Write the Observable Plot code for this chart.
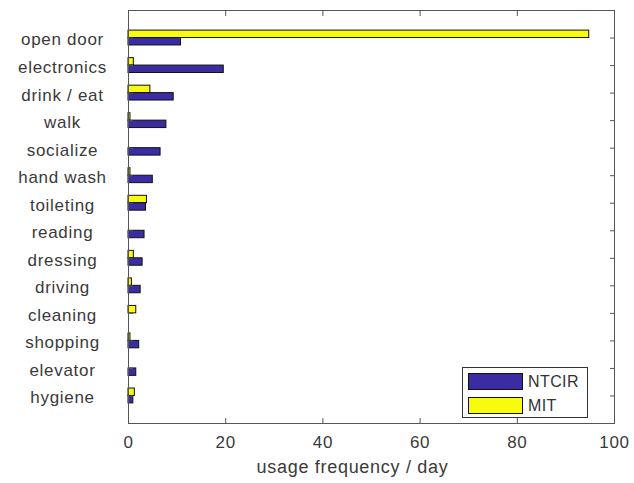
<!DOCTYPE html>
<html>
<head>
<meta charset="utf-8">
<script src="https://cdn.jsdelivr.net/npm/d3@7"></script>
<script src="https://cdn.jsdelivr.net/npm/@observablehq/plot@0.6"></script>
<style>
  html, body { margin: 0; padding: 0; background: #fff; }
  #wrap { position: relative; width: 634px; height: 483px; }
  #wrap svg text { letter-spacing: 0.7px; }
  #legend { position: absolute; left: 462px; top: 367px; width: 124px; height: 49px;
            border: 1px solid #333; background: #fff; font-family: "Liberation Sans", Arial, sans-serif;
            font-size: 16px; color: #333; letter-spacing: 0.4px; }
  .item { position: absolute; left: 5px; height: 17px; display: flex; align-items: center; }
  .sw { width: 53px; height: 15px; border: 1px solid #111; margin-right: 5px; }
</style>
</head>
<body>
<div id="wrap"></div>
<script>
const categories = ["open door","electronics","drink / eat","walk","socialize","hand wash","toileting","reading","dressing","driving","cleaning","shopping","elevator","hygiene"];
const ntcir = [10.8, 19.6, 9.3, 7.8, 6.6, 5.0, 3.6, 3.3, 2.9, 2.5, 0, 2.2, 1.6, 1.0];
const mit   = [94.8, 1.1, 4.5, 0.4, 0, 0.4, 3.8, 0, 1.1, 0.7, 1.6, 0.4, 0, 1.3];
const seriesNames = ["NTCIR", "MIT"];
const seriesColors = ["#3a2ca3", "#f8fa0f"];
const xTicks = [0, 20, 40, 60, 80, 100];
const xLabel = "usage frequency / day";

const idx = categories.map((c, i) => i + 1);
const half = 0.27;
const rows = [];
categories.forEach((c, i) => {
  if (mit[i] > 0) rows.push({series: "MIT", y1: i + 1 - half, y2: i + 1, v: mit[i]});
  if (ntcir[i] > 0) rows.push({series: "NTCIR", y1: i + 1, y2: i + 1 + half, v: ntcir[i]});
});

const textColor = "#3a3a3a";
const chart = Plot.plot({
  width: 634,
  height: 483,
  marginLeft: 128,
  marginRight: 20,
  marginTop: 10,
  marginBottom: 60,
  style: {fontFamily: "Liberation Sans, Arial, sans-serif", fontSize: "16px", color: textColor, background: "#fff"},
  x: {domain: [0, 100]},
  y: {domain: [0, 15], reverse: true},
  color: {domain: seriesNames, range: seriesColors},
  marks: [
    Plot.rect(rows, {x1: 0, x2: "v", y1: "y1", y2: "y2", fill: "series", stroke: "#111", strokeWidth: 1}),
    Plot.frame({stroke: "#555", strokeWidth: 1}),
    Plot.axisX({anchor: "bottom", ticks: xTicks, tickSize: -5, tickPadding: 17, stroke: "#555", fontSize: 17, label: null, fill: textColor}),
    Plot.axisX({anchor: "top", ticks: xTicks, tickSize: -5, tickFormat: () => "", stroke: "#555", label: null}),
    Plot.axisY({anchor: "left", ticks: idx, tickSize: -5, tickFormat: () => "", stroke: "#555", label: null}),
    Plot.axisY({anchor: "left", ticks: idx, tickSize: 0, tickPadding: 0, tickFormat: d => categories[d - 1],
                textAnchor: "middle", dx: -66, dy: 2, fontSize: 17, label: null, fill: textColor}),
    Plot.axisY({anchor: "right", ticks: idx, tickSize: -5, tickFormat: () => "", stroke: "#555", label: null}),
    Plot.text([xLabel], {frameAnchor: "bottom", dx: -19, dy: 49, fontSize: 18, fill: textColor})
  ]
});
document.getElementById("wrap").appendChild(chart);

const legend = document.createElement("div");
legend.id = "legend";
const order = ["NTCIR", "MIT"];
order.forEach((name, k) => {
  const it = document.createElement("div");
  it.className = "item";
  it.style.top = (5 + k * 24) + "px";
  const sw = document.createElement("div");
  sw.className = "sw";
  sw.style.background = seriesColors[seriesNames.indexOf(name)];
  const tx = document.createElement("span");
  tx.textContent = name;
  it.appendChild(sw); it.appendChild(tx);
  legend.appendChild(it);
});
document.getElementById("wrap").appendChild(legend);
</script>
</body>
</html>
